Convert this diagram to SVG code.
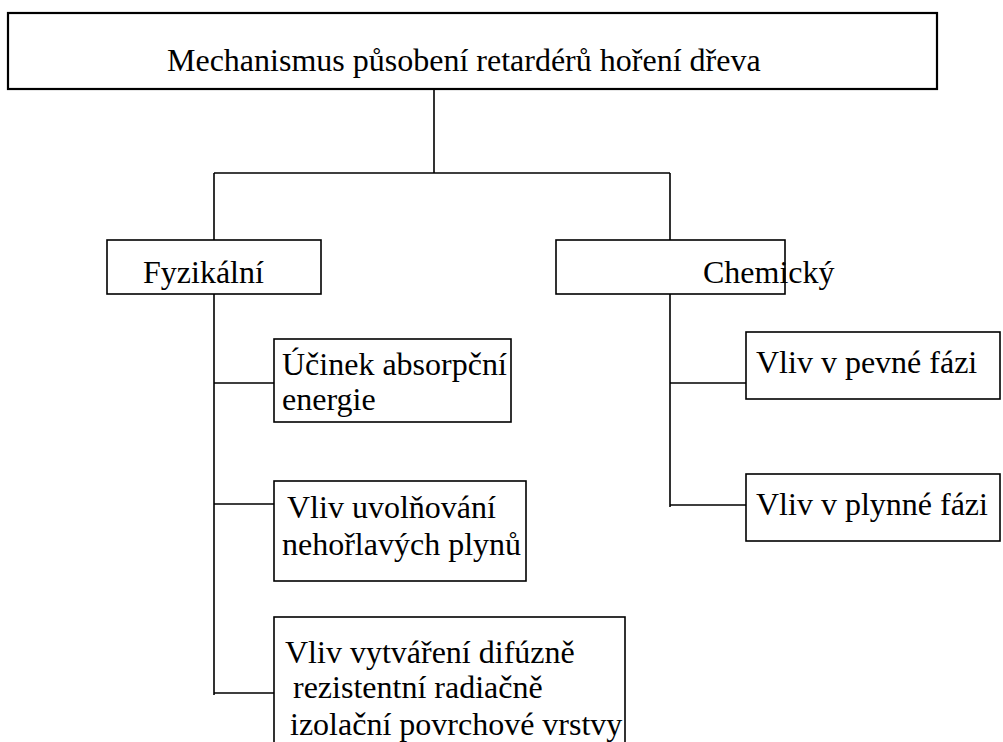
<svg xmlns="http://www.w3.org/2000/svg" width="1003" height="742" viewBox="0 0 1003 742">
<style>
.box{fill:#fff;stroke:#000;stroke-width:1.6}
.top{fill:#fff;stroke:#000;stroke-width:2.2}
.t{font-family:"Liberation Serif","Times New Roman",serif;font-size:32px;fill:#000}
.c{fill:none;stroke:#000;stroke-width:1.6}
</style>
<rect width="1003" height="742" fill="#fff"/>
<g id="connectors">
<path class="c" d="M434,89 V173 M214,173 H670 M214,173 V240 M670,173 V240"/>
<path class="c" d="M214,294 V695 M214,383 H274 M214,504 H274 M214,693 H274"/>
<path class="c" d="M670,294 V507 M670,383 H746 M670,505 H746"/>
</g>
<g id="root">
<rect class="top" x="8" y="13" width="929" height="76"/>
<text class="t" x="167" y="71">Mechanismus působení retardérů hoření dřeva</text>
</g>
<g id="fyzikalni">
<rect class="box" x="107" y="240" width="214" height="54"/>
<text class="t" x="143" y="283">Fyzikální</text>
</g>
<g id="chemicky">
<rect class="box" x="556" y="240" width="229" height="54"/>
<text class="t" x="703" y="283">Chemický</text>
</g>
<g id="ucinek">
<rect class="box" x="274" y="339" width="237" height="83"/>
<text class="t" x="282" y="375">Účinek absorpční</text>
<text class="t" x="282" y="410">energie</text>
</g>
<g id="uvolnovani">
<rect class="box" x="274" y="481" width="252" height="100"/>
<text class="t" x="287" y="518">Vliv uvolňování</text>
<text class="t" x="282" y="555">nehořlavých plynů</text>
</g>
<g id="vytvareni">
<rect class="box" x="274" y="617" width="351" height="140"/>
<text class="t" x="285" y="663">Vliv vytváření difúzně</text>
<text class="t" x="293" y="698">rezistentní radiačně</text>
<text class="t" x="290" y="735">izolační povrchové vrstvy</text>
</g>
<g id="pevne">
<rect class="box" x="746" y="332" width="254" height="67"/>
<text class="t" x="756" y="373">Vliv v pevné fázi</text>
</g>
<g id="plynne">
<rect class="box" x="746" y="474" width="254" height="67"/>
<text class="t" x="756" y="515">Vliv v plynné fázi</text>
</g>
</svg>
